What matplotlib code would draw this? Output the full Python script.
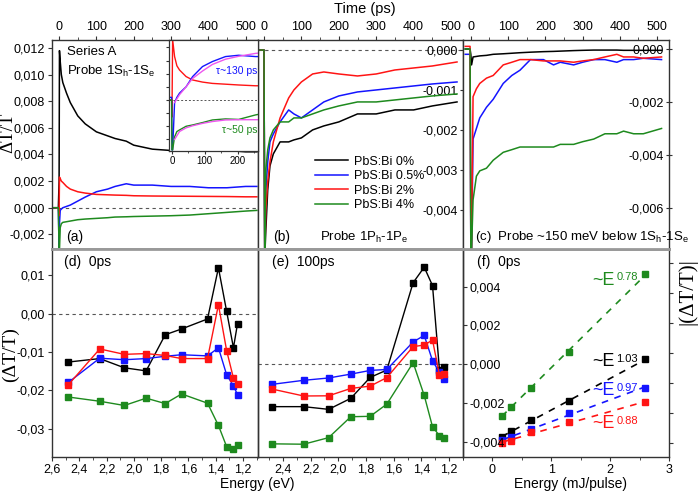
import numpy as np
import matplotlib
matplotlib.use('Agg')
import matplotlib.pyplot as plt
from matplotlib.ticker import MultipleLocator, FuncFormatter, FixedLocator

plt.rcParams['font.family'] = ['Liberation Sans', 'DejaVu Sans']
plt.rcParams['mathtext.fontset'] = 'custom'
plt.rcParams['mathtext.rm'] = 'Liberation Sans'
plt.rcParams['mathtext.it'] = 'Liberation Sans:italic'
plt.rcParams['mathtext.bf'] = 'Liberation Sans:bold'

# ---------------- data ----------------
series_labels = ['PbS:Bi 0%', 'PbS:Bi 0.5%', 'PbS:Bi 2%', 'PbS:Bi 4%']

# panel (a): probe 1Sh-1Se
t_a = [-15, -2, 0, 1, 3, 6, 10, 20, 30, 50, 70, 100, 130, 150, 180, 200, 250, 300, 350, 400, 450, 500, 530]
a_black = [0, 0, 0.002, 0.0118, 0.0110, 0.0100, 0.0094, 0.0086, 0.0079, 0.0069, 0.0063, 0.0057, 0.0054,
           0.0052, 0.0050, 0.0047, 0.0044, 0.0043, 0.0043, 0.0043, 0.0043, 0.0042, 0.0042]
a_blue = [0, 0, -0.0032, -0.0012, -0.0002, -0.0001, 0.0, 0.0001, 0.0002, 0.0005, 0.0008, 0.0012, 0.0014,
          0.0016, 0.0018, 0.0017, 0.0017, 0.0016, 0.0016, 0.0015, 0.0015, 0.0016, 0.0016]
a_red = [0, 0, -0.0006, 0.0023, 0.0022, 0.0020, 0.0019, 0.0016, 0.0014, 0.0012, 0.0011, 0.0010, 0.00097,
         0.00095, 0.00093, 0.0009, 0.00088, 0.00087, 0.00086, 0.00085, 0.00084, 0.00082, 0.00082]
a_green = [0, 0, -0.0032, -0.0032, -0.0015, -0.0012, -0.0011, -0.00105, -0.001, -0.0009, -0.00085, -0.0008,
           -0.00075, -0.0007, -0.00068, -0.00066, -0.00063, -0.0006, -0.00055, -0.00045, -0.00035, -0.00025, -0.0002]

# inset of (a)
t_in = [-9, -1, 0, 2, 8, 15, 23, 43, 63, 93, 123, 163, 203, 254, 262]
in_red = [0, 0, -0.00065, 0.0023, 0.00165, 0.0013, 0.00114, 0.00089, 0.00076, 0.00068, 0.00063, 0.0006,
          0.00057, 0.00054, 0.00054]
in_blue = [0.0001, 0.0001, -0.0019, -0.0019, -0.0001, 0.0001, 0.00026, 0.0005, 0.00089, 0.00127, 0.00146,
           0.00165, 0.0017, 0.00165, 0.00165]
in_green = [0, 0, -0.0019, -0.0019, -0.0014, -0.0012, -0.00114, -0.001, -0.00095, -0.00086, -0.00076,
            -0.00072, -0.00074, -0.00057, -0.00055]
t_fit = [8, 23, 43, 63, 93, 123, 163, 203, 254, 262]
fit_blue = [-0.0001, 0.0002, 0.0005, 0.00082, 0.0011, 0.00135, 0.00155, 0.00166, 0.00177, 0.00178]
fit_green = [-0.0015, -0.0012, -0.00106, -0.00098, -0.00089, -0.00082, -0.00076, -0.00075, -0.00075, -0.00075]

# panel (b): probe 1Ph-1Pe
t_b = [-15, -2, 0, 2, 5, 10, 16, 25, 43, 66, 80, 100, 130, 160, 200, 250, 300, 350, 400, 450, 516]
b_black = [0, 0, 0, -0.0052, -0.0045, -0.0035, -0.0029, -0.0026, -0.0023, -0.0023, -0.00225, -0.0022, -0.002,
           -0.0019, -0.0018, -0.0016, -0.0016, -0.0015, -0.0015, -0.0014, -0.0013]
b_blue = [0, 0, 0, -0.0052, -0.0035, -0.0028, -0.0023, -0.0021, -0.0018, -0.0015, -0.0016, -0.0017, -0.0015,
          -0.0013, -0.00115, -0.00105, -0.001, -0.00095, -0.0009, -0.00085, -0.0008]
b_red = [0, 0, 0, -0.0052, -0.0040, -0.0033, -0.0028, -0.0023, -0.0017, -0.0012, -0.001, -0.0008, -0.0006,
         -0.00055, -0.0006, -0.00065, -0.0006, -0.0005, -0.00045, -0.0004, -0.0003]
b_green = [0, 0, 0, -0.0052, -0.0030, -0.0025, -0.0022, -0.002, -0.0018, -0.0018, -0.0017, -0.0017, -0.0016,
           -0.0015, -0.0014, -0.0013, -0.0013, -0.00125, -0.0012, -0.00115, -0.0011]

# panel (c): probe ~150 meV below 1Sh-1Se
t_c = [-15, -2, 0, 2, 6, 15, 24, 42, 60, 87, 110, 132, 160, 195, 222, 240, 276, 300, 330, 360, 392, 410, 437, 463, 512]
c_black = [0, 0, -0.0002, -0.0006, -0.0003, -0.00028, -0.00026, -0.00024, -0.0002, -0.00018, -0.00016,
           -0.00014, -0.00012, -0.0001, -0.00009, -0.00008, -0.00006, -0.00005, -0.00004, -0.00004,
           -0.00004, -0.00005, -0.00005, -0.00005, -0.00005]
c_blue = [-0.0002, -0.0002, -0.0076, -0.0076, -0.0034, -0.003, -0.0026, -0.0022, -0.0019, -0.0013, -0.001,
          -0.0008, -0.0004, -0.0004, -0.0006, -0.0005, -0.0006, -0.0005, -0.0004, -0.0004, -0.0005, -0.0004,
          -0.0004, -0.00035, -0.0004]
c_red = [0.0001, 0.0001, -0.0076, -0.0076, -0.0018, -0.0015, -0.0013, -0.0011, -0.001, -0.0006, -0.0005,
         -0.0004, -0.0004, -0.00045, -0.00045, -0.00045, -0.0005, -0.00045, -0.0004, -0.0003, -0.0002,
         -0.0003, -0.0003, -0.00035, -0.0003]
c_green = [0, 0, -0.0076, -0.0076, -0.0057, -0.0048, -0.0046, -0.0045, -0.0042, -0.0039, -0.0038, -0.0037,
           -0.0037, -0.0037, -0.0037, -0.0036, -0.0036, -0.0035, -0.0034, -0.0032, -0.0032, -0.0031,
           -0.0032, -0.0032, -0.003]

# panel (d): spectra at 0 ps ; panel (e): spectra at 100 ps
energy_ev = [2.48, 2.25, 2.07, 1.91, 1.77, 1.65, 1.46, 1.38, 1.32, 1.27, 1.24]
d_black = [-0.0126, -0.0117, -0.0141, -0.0149, -0.0055, -0.0040, -0.0014, 0.0119, 0.0006, -0.0089, -0.0026]
d_blue = [-0.0179, -0.0116, -0.0120, -0.0117, -0.0111, -0.0107, -0.0110, -0.0089, -0.0159, -0.0188, -0.0211]
d_red = [-0.0185, -0.0092, -0.0106, -0.0104, -0.0109, -0.0117, -0.0117, 0.0023, -0.0096, -0.0168, -0.0183]
d_green = [-0.0217, -0.0228, -0.0239, -0.0220, -0.0234, -0.0209, -0.0233, -0.0291, -0.0346, -0.0351, -0.0342]

e_black = [-0.0022, -0.0022, -0.00234, -0.00177, -0.00069, -0.00031, 0.0042, 0.0050, 0.00405, -0.0003, -0.00017]
e_blue = [-0.00105, -0.00084, -0.00072, -0.00052, -0.00033, -0.00028, 0.00114, 0.00148, 0.00017, -0.00043, -0.00079]
e_red = [-0.00129, -0.00165, -0.00164, -0.00126, -0.00114, -0.0007, 0.0009, 0.00098, 0.00124, -0.00057, -0.00053]
e_green = [-0.00412, -0.00414, -0.0038, -0.00272, -0.0027, -0.00207, 0.00007, -0.00162, -0.00324, -0.0037, -0.0038]

# panel (f): amplitude vs pump energy at 0 ps
pump_energy = [0.16, 0.32, 0.65, 1.3, 2.6]
f_black = [-0.00376, -0.00348, -0.00291, -0.00191, 0.00024]
f_blue = [-0.00393, -0.00379, -0.00338, -0.00252, -0.00122]
f_red = [-0.00407, -0.00398, -0.00353, -0.00298, -0.00198]
f_green = [-0.00267, -0.0022, -0.00122, 0.0006, 0.00465]
f_exponents = ['1.03', '0.97', '0.88', '0.78']

# ---------------- style ----------------
colors = ['#000000', '#1414ff', '#ff1414', '#1e8a1e']
spine_col = '#333333'
W, H = 700, 493
fig = plt.figure(figsize=(7, 4.93), dpi=100)


def rect(x0, y0, x1, y1):
    return [x0 / W, 1 - y1 / H, (x1 - x0) / W, (y1 - y0) / H]


def fx(x):
    return x / W


def fy(y):
    return 1 - y / H


def comma(nd):
    def f(v, p):
        if abs(v) < 1e-12:
            v = 0.0
        return f'{v:.{nd}f}'.replace('.', ',')
    return FuncFormatter(f)


def style_spines(ax):
    for s in ax.spines.values():
        s.set_color(spine_col)
        s.set_linewidth(1.0)


cols = [(52, 258), (258, 463), (463, 669)]
top_row = (40, 249)
bot_row = (249, 457)

ax_a = fig.add_axes(rect(cols[0][0], top_row[0], cols[0][1], top_row[1]))
ax_b = fig.add_axes(rect(cols[1][0], top_row[0], cols[1][1], top_row[1]))
ax_c = fig.add_axes(rect(cols[2][0], top_row[0], cols[2][1], top_row[1]))
ax_d = fig.add_axes(rect(cols[0][0], bot_row[0], cols[0][1], bot_row[1]))
ax_e = fig.add_axes(rect(cols[1][0], bot_row[0], cols[1][1], bot_row[1]))
ax_f = fig.add_axes(rect(cols[2][0], bot_row[0], cols[2][1], bot_row[1]))

for ax in [ax_a, ax_b, ax_c, ax_d, ax_e, ax_f]:
    style_spines(ax)
for ax in [ax_a, ax_b, ax_c]:
    ax.spines['bottom'].set_color('#999999')
    ax.spines['bottom'].set_linewidth(2.0)
for ax in [ax_d, ax_e, ax_f]:
    ax.spines['top'].set_color('#999999')
    ax.spines['top'].set_linewidth(2.0)

lw = 1.1
# ---- panel (a)
for y, c in zip([a_black, a_blue, a_red, a_green], colors):
    ax_a.plot(t_a, y, color=c, lw=lw)
ax_a.axhline(0, color='#555555', lw=0.8, ls=(0, (3, 3)), zorder=0)
ax_a.set_xlim(-19, 533)
ax_a.set_ylim(-0.0031, 0.0126)
ax_a.yaxis.set_major_locator(MultipleLocator(0.002))
ax_a.yaxis.set_major_formatter(comma(3))

# ---- panel (b)
lines_b = []
for y, c, lab in zip([b_black, b_blue, b_red, b_green], colors, series_labels):
    ln, = ax_b.plot(t_b, y, color=c, lw=lw, label=lab)
    lines_b.append(ln)
ax_b.axhline(0, color='#555555', lw=0.8, ls=(0, (3, 3)), zorder=0)
ax_b.set_xlim(-16, 532)
ax_b.set_ylim(-0.00498, 0.00025)
ax_b.set_yticks([0, -0.001, -0.002, -0.003, -0.004])
ax_b.yaxis.set_major_formatter(comma(3))
ax_b.legend(handles=lines_b, loc='upper left', bbox_to_anchor=(0.255, 0.47), frameon=False,
            fontsize=9, handlelength=2.6, labelspacing=0.2, borderaxespad=0, handletextpad=0.5)

# ---- panel (c)
for y, c in zip([c_black, c_blue, c_red, c_green], colors):
    ax_c.plot(t_c, y, color=c, lw=lw)
ax_c.set_xlim(-21, 532)
ax_c.set_ylim(-0.00755, 0.00034)
ax_c.set_yticks([0, -0.002, -0.004, -0.006])
ax_c.yaxis.set_major_formatter(comma(3))

for ax in [ax_a, ax_b, ax_c]:
    ax.xaxis.tick_top()
    ax.xaxis.set_major_locator(MultipleLocator(100))
    ax.xaxis.set_minor_locator(MultipleLocator(50))
    ax.tick_params(axis='x', which='major', direction='out', length=3, labelsize=9, pad=2,
                   color=spine_col)
    ax.tick_params(axis='x', which='minor', direction='out', length=2, color=spine_col)

ax_a.tick_params(axis='y', direction='out', length=3, labelsize=9, pad=2, color=spine_col)
for ax in [ax_b, ax_c]:
    ax.yaxis.tick_right()
    ax.tick_params(axis='y', direction='inout', length=5, labelsize=9, pad=-6, color=spine_col,
                   labelright=True, labelleft=False)
    for tk in ax.yaxis.get_major_ticks():
        tk.label2.set_horizontalalignment('right')

# inset in (a)
ax_in = fig.add_axes(rect(169, 40, 258, 151))
ax_in.set_facecolor('white')
for s in ax_in.spines.values():
    s.set_color(spine_col)
    s.set_linewidth(0.9)
ax_in.plot(t_in, in_red, color=colors[2], lw=1.0)
ax_in.plot(t_in, in_blue, color=colors[1], lw=1.0)
ax_in.plot(t_in, in_green, color=colors[3], lw=1.0)
ax_in.plot(t_fit, fit_blue, color='#ee55ee', lw=1.0)
ax_in.plot(t_fit, fit_green, color='#ee55ee', lw=1.0)
ax_in.axhline(0, color='#555555', lw=0.7, ls=(0, (2, 2)), zorder=0)
ax_in.set_xlim(-9, 262)
ax_in.set_ylim(-0.00194, 0.00228)
ax_in.xaxis.set_major_locator(MultipleLocator(100))
ax_in.xaxis.set_minor_locator(MultipleLocator(50))
ax_in.yaxis.set_major_locator(MultipleLocator(0.0005))
ax_in.tick_params(axis='x', which='major', length=2.5, labelsize=7, pad=1, color=spine_col)
ax_in.tick_params(axis='x', which='minor', length=1.5, color=spine_col)
ax_in.tick_params(axis='y', length=2, labelleft=False, color=spine_col)
ax_in.text(0.99, 0.72, 'τ~130 ps', color=colors[1], fontsize=7.5, ha='right', va='center',
           transform=ax_in.transAxes)
ax_in.text(0.99, 0.19, 'τ~50 ps', color=colors[3], fontsize=7.5, ha='right', va='center',
           transform=ax_in.transAxes)

# ---- panel (d)
for y, c in zip([d_black, d_blue, d_red, d_green], colors):
    ax_d.plot(energy_ev, y, color=c, lw=1.0, marker='s', ms=5, mec=c, mfc=c)
ax_d.axhline(0, color='#555555', lw=0.8, ls=(0, (3, 3)), zorder=0)
ax_d.set_xlim(2.6, 1.09)
ax_d.set_ylim(-0.0373, 0.0168)
ax_d.set_yticks([0.01, 0.0, -0.01, -0.02, -0.03])
ax_d.yaxis.set_major_formatter(comma(2))
ax_d.xaxis.set_major_locator(MultipleLocator(0.2))
ax_d.xaxis.set_minor_locator(MultipleLocator(0.1))
ax_d.xaxis.set_major_formatter(comma(1))
ax_d.tick_params(axis='both', which='major', direction='out', length=3, labelsize=9, pad=2, color=spine_col)
ax_d.tick_params(axis='x', which='minor', direction='out', length=2, color=spine_col)

# ---- panel (e)
for y, c in zip([e_black, e_blue, e_red, e_green], colors):
    ax_e.plot(energy_ev, y, color=c, lw=1.0, marker='s', ms=5, mec=c, mfc=c)
ax_e.axhline(0, color='#555555', lw=0.8, ls=(0, (3, 3)), zorder=0)
ax_e.set_xlim(2.58, 1.10)
ax_e.set_ylim(-0.0048, 0.00594)
ax_e.set_xticks([2.4, 2.2, 2.0, 1.8, 1.6, 1.4, 1.2])
ax_e.xaxis.set_minor_locator(MultipleLocator(0.1))
ax_e.xaxis.set_major_formatter(comma(1))
ax_e.yaxis.tick_right()
ax_e.set_yticks([0.004, 0.002, 0.0, -0.002, -0.004])
ax_e.yaxis.set_major_formatter(comma(3))
ax_e.tick_params(axis='both', which='major', direction='out', length=3, labelsize=9, pad=2, color=spine_col)
ax_e.tick_params(axis='x', which='minor', direction='out', length=2, color=spine_col)

# ---- panel (f)
ax_f.set_xlim(-0.5, 3.0)
ax_f.set_ylim(-0.0048, 0.00594)
pe = np.array(pump_energy)
for y, c, ex in zip([f_black, f_blue, f_red, f_green], colors, f_exponents):
    ax_f.plot(pe, y, ls='none', marker='s', ms=5, mec=c, mfc=c)
    k, b0 = np.polyfit(pe, y, 1)
    xx = np.array([pe[0], pe[-1]])
    ax_f.plot(xx, k * xx + b0, color=c, lw=1.2, ls=(0, (4, 4)))
ax_f.set_zorder(ax_e.get_zorder() - 1)
ax_f.patch.set_visible(False)
ax_e.patch.set_visible(False)
ax_f.xaxis.set_major_locator(MultipleLocator(1))
ax_f.xaxis.set_minor_locator(MultipleLocator(0.5))
ax_f.yaxis.tick_right()
ax_f.yaxis.set_major_locator(FixedLocator(np.arange(-0.00408, 0.0059, 0.00155)))
ax_f.tick_params(axis='y', direction='out', length=3, labelright=False, color=spine_col)
ax_f.tick_params(axis='x', which='major', direction='out', length=3, labelsize=9, pad=2, color=spine_col)
ax_f.tick_params(axis='x', which='minor', direction='out', length=2, color=spine_col)

# exponent annotations in (f)
ann_pos = [(1.70, -0.0001), (1.70, -0.0016), (1.70, -0.0033), (1.70, 0.0041)]
for (x0, y0), c, ex in zip(ann_pos, colors, f_exponents):
    t1 = ax_f.text(x0, y0, '~E', color=c, fontsize=13, ha='left', va='baseline')
    ax_f.annotate(ex, xy=(1.0, 0.95), xycoords=t1, xytext=(1, 0), textcoords='offset points',
                  color=c, fontsize=8, ha='left', va='top')

# ---------------- texts ----------------
serif = ['Liberation Serif', 'DejaVu Serif']
fig.text(fx(365), fy(9), 'Time (ps)', ha='center', va='center', fontsize=10.5)
fig.text(fx(8), fy(133), 'ΔT/T', rotation=90, ha='center', va='center', fontsize=13.5, family=serif)
fig.text(fx(10), fy(355), '(ΔT/T)', rotation=90, ha='center', va='center', fontsize=14, family=serif)
fig.text(fx(688), fy(292), '|(ΔT/T)|', rotation=90, ha='center', va='center', fontsize=15, family=serif)
fig.text(fx(257), fy(484), 'Energy (eV)', ha='center', va='center', fontsize=10)
fig.text(fx(571), fy(484), 'Energy (mJ/pulse)', ha='center', va='center', fontsize=10)

fig.text(fx(67), fy(52), 'Series A', ha='left', va='center', fontsize=9.5)
fig.text(fx(67), fy(71), r'Probe 1S$_{\mathregular{h}}$-1S$_{\mathregular{e}}$', ha='left', va='center', fontsize=9.5)
fig.text(fx(66), fy(237), '(a)', ha='left', va='center', fontsize=10)
fig.text(fx(273), fy(237), '(b)', ha='left', va='center', fontsize=10)
fig.text(fx(320), fy(237), r'Probe 1P$_{\mathregular{h}}$-1P$_{\mathregular{e}}$', ha='left', va='center', fontsize=9.5)
fig.text(fx(475), fy(237), r'(c)  Probe ~150 meV below 1S$_{\mathregular{h}}$-1S$_{\mathregular{e}}$',
         ha='left', va='center', fontsize=9.5)
fig.text(fx(64), fy(262), '(d)  0ps', ha='left', va='center', fontsize=10)
fig.text(fx(272), fy(262), '(e)  100ps', ha='left', va='center', fontsize=10)
fig.text(fx(477), fy(262), '(f)  0ps', ha='left', va='center', fontsize=10)

fig.savefig('out.png', dpi=100)
